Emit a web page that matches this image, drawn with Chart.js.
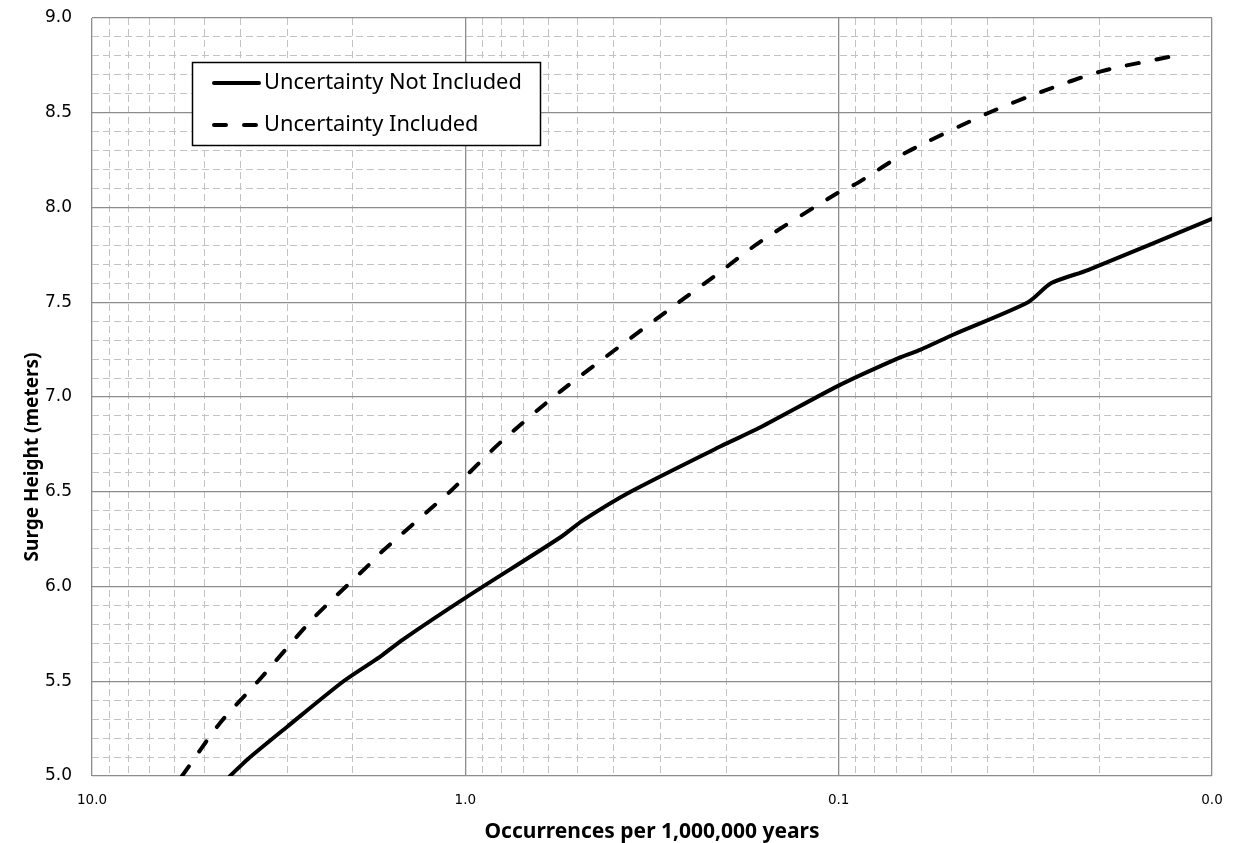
<!DOCTYPE html>
<html>
<head>
<meta charset="utf-8">
<script src="https://cdn.jsdelivr.net/npm/chart.js@4.4.0/dist/chart.umd.min.js"></script>
<style>
  html, body { margin: 0; padding: 0; background: #fff; }
  #wrap { width: 1248px; height: 843px; }
</style>
</head>
<body>
<div id="wrap"><canvas id="surge-chart"></canvas></div>
<script>
// occurrences per 1,000,000 years (x) vs surge height in metres (y)
const noUncX = [4.27, 3.82, 3.0, 2.12, 1.69, 1.47, 1.0, 0.556, 0.483, 0.361, 0.207, 0.162, 0.1, 0.0682, 0.0603, 0.0492, 0.0311, 0.027, 0.0215, 0.01];
const noUncY = [5.0, 5.09, 5.26, 5.50, 5.63, 5.72, 5.94, 6.26, 6.35, 6.50, 6.74, 6.84, 7.06, 7.21, 7.25, 7.33, 7.50, 7.60, 7.67, 7.94];
const withUncX = [5.74, 4.54, 3.59, 2.56, 1.80, 1.66, 1.10, 1.0, 0.806, 0.556, 0.268, 0.211, 0.162, 0.1, 0.0889, 0.066, 0.0396, 0.0287, 0.0197, 0.01265];
const withUncY = [5.0, 5.28, 5.5, 5.83, 6.12, 6.19, 6.5, 6.58, 6.76, 7.03, 7.5, 7.65, 7.82, 8.08, 8.13, 8.29, 8.50, 8.61, 8.72, 8.80];

const seriesLabels = ['Uncertainty Not Included', 'Uncertainty Included'];
const xDecades = [10, 1, 0.1, 0.01];
const xTickLabels = ['10.0', '1.0', '0.1', '0.0'];
const yMajorLabels = ['5.0', '5.5', '6.0', '6.5', '7.0', '7.5', '8.0', '8.5', '9.0'];
const xTitle = 'Occurrences per 1,000,000 years';
const yTitle = 'Surge Height (meters)';

// grid positions: 1..9 per decade on x, every 0.1 on y
const xGrid = [];
[0.01, 0.1, 1].forEach(d => { for (let m = 1; m < 10; m++) xGrid.push(+(d * m).toPrecision(3)); });
xGrid.push(10);
const yGrid = [];
for (let i = 50; i <= 90; i++) yGrid.push(i / 10);

const isDecade = v => Math.abs(Math.log10(v) - Math.round(Math.log10(v))) < 1e-6;
const isHalf = v => Math.abs(v * 2 - Math.round(v * 2)) < 1e-6;

const majorColor = '#8c8c8c';
const minorColor = '#c3c3c3';
const titleFamily = '"Noto Sans"';

const toPoints = (xs, ys) => xs.map((x, i) => ({x: x, y: ys[i]}));

const overlay = {
  id: 'overlay',
  afterDraw(chart) {
    const ctx = chart.ctx;
    // y axis title, sits a bit lower than the plot centre
    ctx.save();
    ctx.translate(33, 457);
    ctx.rotate(-Math.PI / 2);
    ctx.font = 'bold 19px ' + titleFamily;
    ctx.fillStyle = '#000';
    ctx.textAlign = 'center';
    ctx.textBaseline = 'middle';
    ctx.fillText(yTitle, 0, 0);
    ctx.restore();

    // boxed legend
    ctx.save();
    ctx.fillStyle = '#fff';
    ctx.fillRect(192, 62, 349, 84);
    ctx.strokeStyle = '#000';
    ctx.lineWidth = 1.5;
    ctx.strokeRect(192.5, 62.5, 348, 83);
    const rows = [83, 125];
    chart.data.datasets.forEach((ds, i) => {
      ctx.beginPath();
      ctx.setLineDash(ds.borderDash || []);
      ctx.lineCap = 'round';
      ctx.lineWidth = ds.borderWidth;
      ctx.strokeStyle = ds.borderColor;
      ctx.moveTo(214, rows[i]);
      ctx.lineTo(259, rows[i]);
      ctx.stroke();
      ctx.setLineDash([]);
      ctx.font = '21.8px ' + titleFamily;
      ctx.fillStyle = '#000';
      ctx.textAlign = 'left';
      ctx.textBaseline = 'middle';
      ctx.fillText(ds.label, 264, rows[i]);
    });
    ctx.restore();
  }
};

new Chart(document.getElementById('surge-chart'), {
  type: 'line',
  data: {
    datasets: [{
      label: seriesLabels[0],
      data: toPoints(noUncX, noUncY),
      borderColor: '#000',
      borderWidth: 4,
      tension: 0.25,
      pointRadius: 0,
      borderCapStyle: 'round'
    }, {
      label: seriesLabels[1],
      data: toPoints(withUncX, withUncY),
      borderColor: '#000',
      borderWidth: 4,
      borderDash: [12, 18],
      borderCapStyle: 'round',
      tension: 0.25,
      pointRadius: 0
    }]
  },
  options: {
    responsive: true,
    maintainAspectRatio: false,
    animation: false,
    layout: { padding: { top: 18, right: 36, left: 0, bottom: 0 } },
    plugins: { legend: { display: false }, tooltip: { enabled: false } },
    scales: {
      x: {
        type: 'logarithmic',
        reverse: true,
        min: 0.01,
        max: 10,
        afterBuildTicks: scale => { scale.ticks = xGrid.map(v => ({value: v})); },
        afterFit: scale => { scale.height = 67; },
        ticks: {
          autoSkip: false,
          maxRotation: 0,
          padding: 16,
          color: '#000',
          font: { family: '"DejaVu Sans"', size: 13.5 },
          callback: value => {
            const i = xDecades.findIndex(d => Math.abs(d - value) < d * 1e-6);
            return i >= 0 ? xTickLabels[i] : '';
          }
        },
        grid: {
          drawTicks: false,
          color: c => (c.tick && isDecade(c.tick.value)) ? majorColor : minorColor,
          lineWidth: c => (c.tick && isDecade(c.tick.value)) ? 1.3 : 1
        },
        border: {
          display: false,
          dash: c => (c.tick && !isDecade(c.tick.value)) ? [7, 4] : []
        },
        title: {
          display: true,
          text: xTitle,
          color: '#000',
          font: { family: titleFamily, size: 21, weight: 'bold' },
          padding: { top: 0, bottom: -2 }
        }
      },
      y: {
        type: 'linear',
        min: 5,
        max: 9,
        afterBuildTicks: scale => { scale.ticks = yGrid.map(v => ({value: v})); },
        afterFit: scale => {
          scale.width = 92;
          scale.paddingTop = 0;
          scale.paddingBottom = 0;
        },
        ticks: {
          autoSkip: false,
          padding: 20,
          color: '#000',
          font: { family: '"DejaVu Sans"', size: 17 },
          callback: value => isHalf(value) ? yMajorLabels[Math.round((value - 5) * 2)] : ''
        },
        grid: {
          drawTicks: false,
          color: c => (c.tick && isHalf(c.tick.value)) ? majorColor : minorColor,
          lineWidth: c => (c.tick && isHalf(c.tick.value)) ? 1.3 : 1
        },
        border: {
          display: false,
          dash: c => (c.tick && !isHalf(c.tick.value)) ? [7, 4] : []
        }
      }
    }
  },
  plugins: [overlay]
});
</script>
</body>
</html>
